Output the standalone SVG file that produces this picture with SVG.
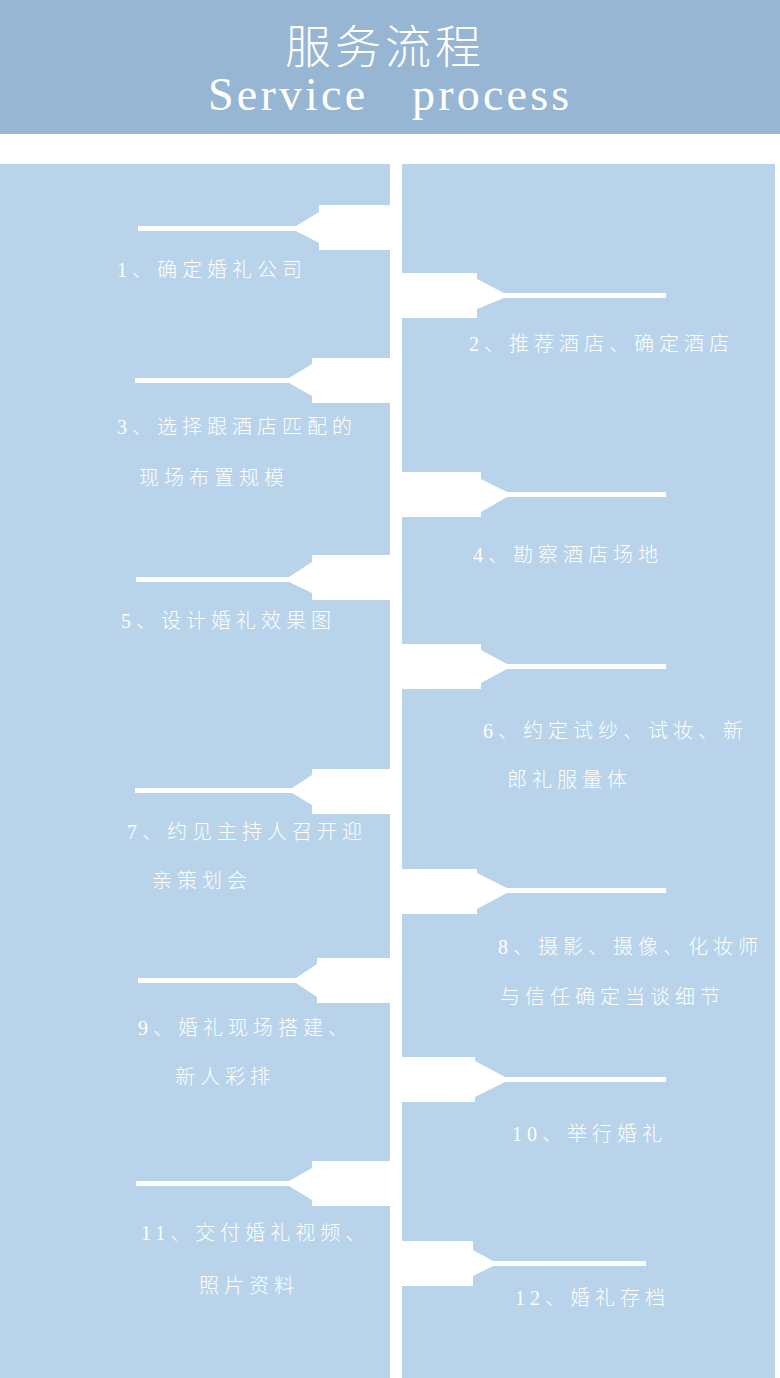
<svg xmlns="http://www.w3.org/2000/svg" width="780" height="1378" viewBox="0 0 780 1378">
<style>
.bg{fill:#ffffff}
.hdr{fill:#97b6d3}
.panel{fill:#b8d3ea}
.arrow{fill:#ffffff}
.t{font-family:"Liberation Serif","Noto Sans CJK SC",serif;font-size:20px;letter-spacing:5px;fill:#ffffff;font-weight:300}
.title{font-family:"Liberation Serif","Noto Sans CJK SC",serif;font-size:46px;letter-spacing:4px;fill:#ffffff;font-weight:300}
.en{font-family:"Liberation Serif",serif;font-size:46px;letter-spacing:3.2px;fill:#ffffff}
</style>
<rect class="bg" x="0" y="0" width="780" height="1378"/>
<g id="header">
<rect class="hdr" x="0" y="0" width="780" height="134"/>
<text class="title" x="285" y="63">服务流程</text>
<text class="en" x="208" y="110">Service</text>
<text class="en" x="412" y="110">process</text>
</g>
<g id="panels">
<rect class="panel" x="0" y="164" width="390" height="1214"/>
<rect class="panel" x="402" y="164" width="373" height="1214"/>
</g>
<g id="connectors">
<path class="arrow" d="M390 205H319V212L296 226H138V231H296L319 243V250H390Z"/>
<path class="arrow" d="M402 273H477V279L504 293H666V298H504L477 309V318H402Z"/>
<path class="arrow" d="M390 358H312V364L289 378H135V383H289L312 396V403H390Z"/>
<path class="arrow" d="M402 472H481V479L507 492H666V497H507L481 512V517H402Z"/>
<path class="arrow" d="M390 555H312V562L289 577H136V582H289L312 593V600H390Z"/>
<path class="arrow" d="M402 644H481V650L507 664H666V669H507L481 683V689H402Z"/>
<path class="arrow" d="M390 769H312V775L292 788H135V793H292L312 805V814H390Z"/>
<path class="arrow" d="M402 869H477V873L507 888H666V893H507L477 909V914H402Z"/>
<path class="arrow" d="M390 958H317V964L296 978H138V983H296L317 997V1003H390Z"/>
<path class="arrow" d="M402 1057H475V1061L505 1077H666V1082H505L475 1097V1102H402Z"/>
<path class="arrow" d="M390 1161H312V1168L289 1181H136V1186H289L312 1200V1206H390Z"/>
<path class="arrow" d="M402 1241H473V1250L493 1261H646V1266H493L473 1276V1286H402Z"/>
</g>
<g id="step1"><text class="t" x="117" y="277">1、确定婚礼公司</text></g>
<g id="step2"><text class="t" x="469" y="351">2、推荐酒店、确定酒店</text></g>
<g id="step3"><text class="t" x="117" y="434">3、选择跟酒店匹配的</text><text class="t" x="139" y="485">现场布置规模</text></g>
<g id="step4"><text class="t" x="473" y="562">4、勘察酒店场地</text></g>
<g id="step5"><text class="t" x="121" y="628">5、设计婚礼效果图</text></g>
<g id="step6"><text class="t" x="483" y="738">6、约定试纱、试妆、新</text><text class="t" x="507" y="787">郎礼服量体</text></g>
<g id="step7"><text class="t" x="127" y="839">7、约见主持人召开迎</text><text class="t" x="152" y="888">亲策划会</text></g>
<g id="step8"><text class="t" x="498" y="954">8、摄影、摄像、化妆师</text><text class="t" x="500" y="1004">与信任确定当谈细节</text></g>
<g id="step9"><text class="t" x="138" y="1035">9、婚礼现场搭建、</text><text class="t" x="175" y="1084">新人彩排</text></g>
<g id="step10"><text class="t" x="512" y="1141">10、举行婚礼</text></g>
<g id="step11"><text class="t" x="141" y="1240">11、交付婚礼视频、</text><text class="t" x="199" y="1293">照片资料</text></g>
<g id="step12"><text class="t" x="515" y="1305">12、婚礼存档</text></g>
</svg>
